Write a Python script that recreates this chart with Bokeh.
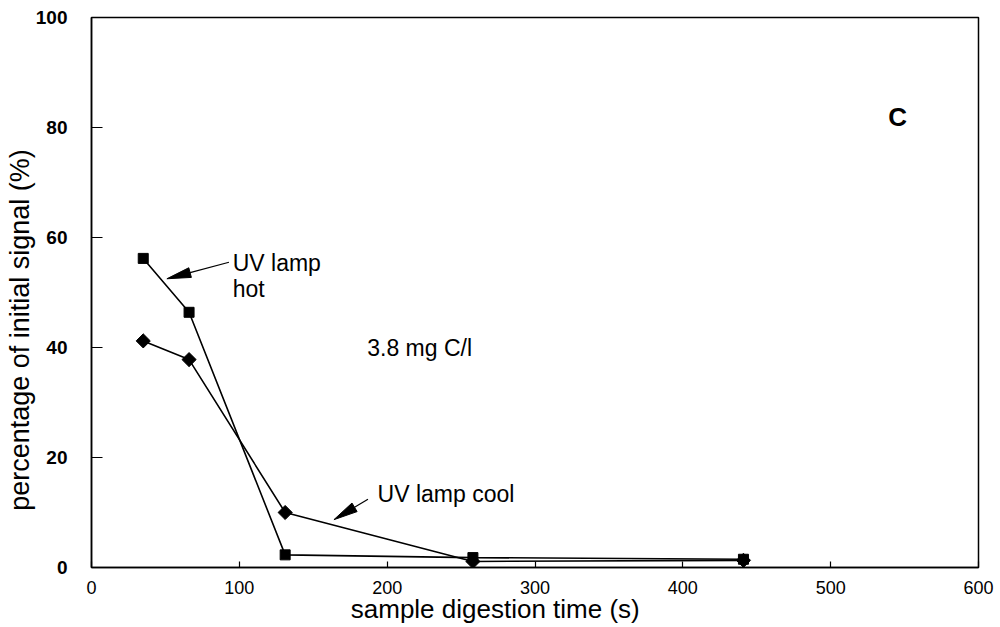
import math
from bokeh.plotting import figure
from bokeh.models import Label, FixedTicker
from bokeh.embed import file_html
from bokeh.resources import INLINE

# sample digestion time (s)
times = [35, 66, 131, 258, 441]
# percentage of initial signal (%)
lamp_hot = [56.2, 46.4, 2.3, 1.8, 1.5]
lamp_cool = [41.2, 37.8, 10.0, 1.1, 1.3]

x_ticks = [0, 100, 200, 300, 400, 500, 600]
y_ticks = [0, 20, 40, 60, 80, 100]

FRAME_W, FRAME_H = 887, 550
X0, X1, Y0, Y1 = 0, 600, 0, 100
NBSP = "\u00a0"

p = figure(width=1000, height=627, x_range=(X0, X1), y_range=(Y0, Y1),
           output_backend="svg", toolbar_location=None,
           min_border_left=91, min_border_right=22,
           min_border_top=17, min_border_bottom=60)
p.grid.visible = False
p.background_fill_color = "white"
p.border_fill_color = "white"
p.outline_line_color = "black"
p.outline_line_width = 1.5

p.xaxis.ticker = FixedTicker(ticks=x_ticks)
p.yaxis.ticker = FixedTicker(ticks=y_ticks)
for ax in (p.xaxis, p.yaxis):
    ax.axis_line_color = "black"
    ax.axis_line_width = 1.5
    ax.major_tick_out = 0
    ax.minor_tick_line_color = None
    ax.major_tick_line_color = "black"
    ax.major_tick_line_width = 1.2
    ax.major_label_text_color = "black"
    ax.axis_label_text_color = "black"
    ax.axis_label_text_font = "Liberation Sans"
    ax.axis_label_text_font_style = "normal"

p.xaxis.major_tick_in = 6
p.yaxis.major_tick_in = 11

p.xaxis.major_label_text_font = "Liberation Sans"
p.xaxis.major_label_text_font_size = "18px"
p.xaxis.major_label_standoff = 13
# trailing padding moves the visible title a little left of the frame centre
p.xaxis.axis_label = "sample digestion time (s)" + NBSP * 11
p.xaxis.axis_label_text_font_size = "26px"
p.xaxis.axis_label_standoff = -3

p.yaxis.major_label_text_font = "Liberation Sans"
p.yaxis.major_label_text_font_style = "bold"
p.yaxis.major_label_text_font_size = "19px"
p.yaxis.major_label_standoff = 24
# trailing padding moves the visible title a little below the frame centre
p.yaxis.axis_label = "percentage of initial signal (%)" + NBSP * 10
p.yaxis.axis_label_text_font_size = "27px"
p.yaxis.axis_label_standoff = -2

# pixels per data unit, used to shape the arrowheads
sx = FRAME_W / (X1 - X0)
sy = FRAME_H / (Y1 - Y0)

# series
p.line(times, lamp_hot, line_color="black", line_width=1.6)
p.scatter(times, lamp_hot, marker="square", size=10, color="black")
p.line(times, lamp_cool, line_color="black", line_width=1.6)
p.scatter(times, lamp_cool, marker="square", size=10, angle=math.pi / 4,
          color="black")


def arrow(x0, y0, x1, y1, head_len=24, head_w=10):
    """Thin line from (x0, y0) ending in a long narrow filled head at (x1, y1)."""
    dx, dy = (x1 - x0) * sx, (y1 - y0) * sy
    d = math.hypot(dx, dy)
    ux, uy = dx / d, dy / d
    nx, ny = -uy, ux
    bx, by = x1 * sx - ux * head_len, y1 * sy - uy * head_len
    xs = [x1, (bx + nx * head_w / 2) / sx, (bx - nx * head_w / 2) / sx]
    ys = [y1, (by + ny * head_w / 2) / sy, (by - ny * head_w / 2) / sy]
    p.segment(x0, y0, bx / sx, by / sy, line_color="black", line_width=1.2)
    p.patch(xs, ys, fill_color="black", line_color="black", line_width=1)


arrow(93, 55.5, 51, 52.5)
arrow(187, 12.4, 164, 8.7)


def note(x, y, text, size="23px", style="normal"):
    p.add_layout(Label(x=x, y=y, text=text, text_font="Liberation Sans",
                       text_font_size=size, text_font_style=style,
                       text_color="black", text_baseline="middle"))


note(95.5, 55.4, "UV lamp")
note(95.5, 50.6, "hot")
note(193.5, 13.3, "UV lamp cool")
note(186.5, 40, "3.8 mg C/l")
note(539, 82, "C", size="26px", style="bold")

open("out.html", "w").write(file_html(p, INLINE))
